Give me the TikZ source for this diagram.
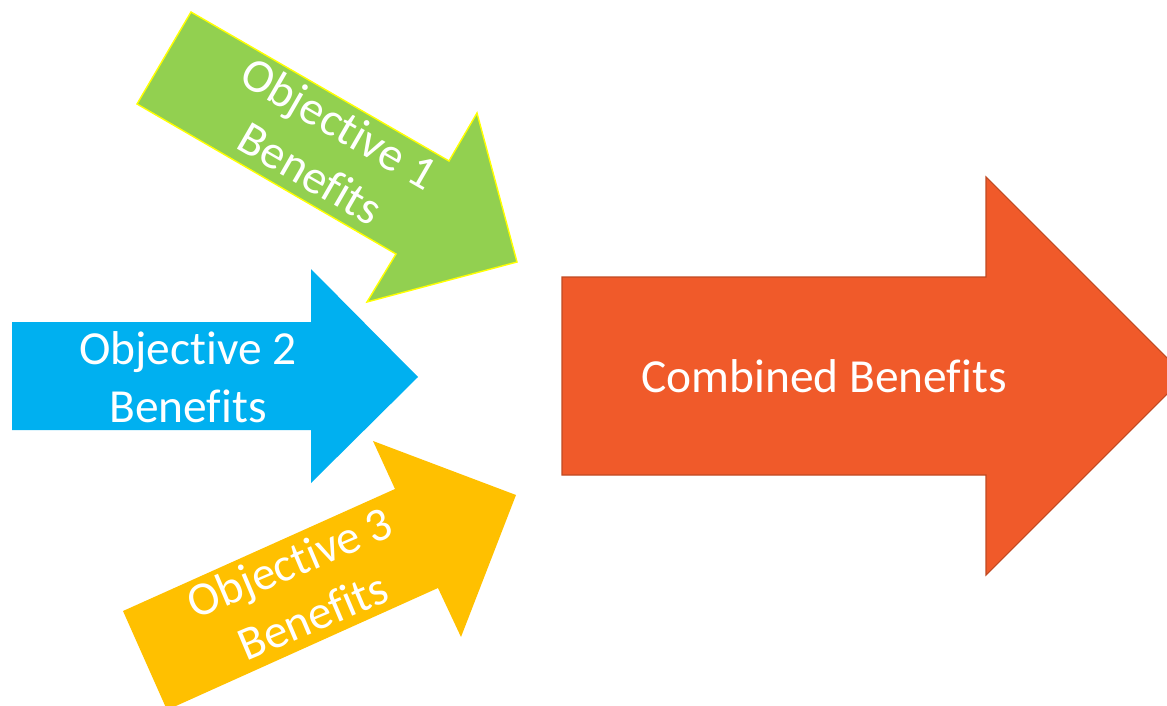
\documentclass[tikz,border=0pt]{standalone}
\usepackage{fontspec}
\setmainfont{Carlito}[RawFeature={-liga;-clig;-calt;-dlig}]
\usepackage{tikz}
\definecolor{objgreen}{HTML}{92D050}
\definecolor{objyellow}{HTML}{FFFF00}
\definecolor{objblue}{HTML}{00B0F0}
\definecolor{objgold}{HTML}{FFC000}
\definecolor{combined}{HTML}{F05A2A}
\definecolor{combinededge}{HTML}{C04A22}
\tikzset{
	arrowtext/.style={text=white, align=center, font=\fontsize{27}{33}\selectfont}
}

\begin{document}
\begin{tikzpicture}[x=0.02cm, y=-0.02cm]
			%%%%% START %%%%%
			\useasboundingbox (0, 0) rectangle (1167, 706);
			
			% objective 1
			\draw[fill=objgreen, draw=objyellow, line width=0.8pt] (191, 12) -- (449, 161) -- (477, 113) -- (517, 262) -- (367, 302) -- (396, 254) -- (137, 104) -- cycle;
			\node[arrowtext, rotate=-30] (obj1) at (325, 148) {Objective 1\\Benefits};
			
			% objective 2
			\fill[objblue] (12, 322) -- (311, 322) -- (311, 269) -- (418, 377) -- (311, 483) -- (311, 430) -- (12, 430) -- cycle;
			\node[arrowtext] (obj2) at (188, 377) {Objective 2\\Benefits};
			
			% objective 3
			\fill[objgold] (123, 611) -- (395, 489) -- (373, 441) -- (516, 495) -- (461, 637) -- (438, 588) -- (167, 710) -- cycle;
			\node[arrowtext, rotate=23] (obj3) at (301, 589) {Objective 3\\Benefits};
			
			% combined
			\draw[fill=combined, draw=combinededge, line width=0.6pt] (562, 277) -- (986, 277) -- (986, 177) -- (1185, 376) -- (986, 575) -- (986, 475) -- (562, 475) -- cycle;
			\node[arrowtext] (comb) at (824, 376) {Combined Benefits};
			
			%%%%% END %%%%%
		\end{tikzpicture}
\end{document}
